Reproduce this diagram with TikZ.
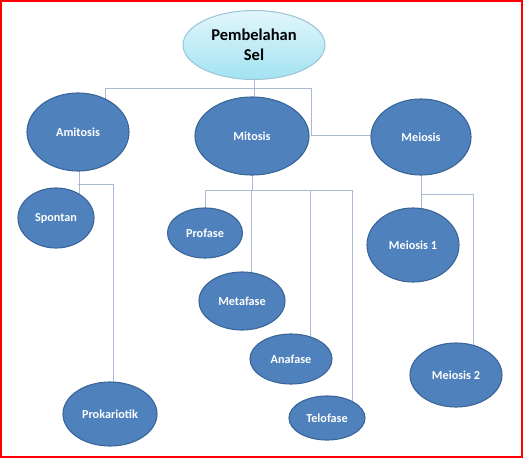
\documentclass[tikz,border=0pt]{standalone}
\usepackage{fontspec}
\setmainfont{Carlito}
\usetikzlibrary{shapes.geometric,backgrounds}
\definecolor{nodeblue}{HTML}{4F81BD}
\definecolor{nodeedge}{HTML}{3A6598}
\definecolor{linkc}{HTML}{A9B9D3}
\definecolor{toptop}{HTML}{E2F6FB}
\definecolor{topbot}{HTML}{A2E2F2}
\definecolor{topedge}{HTML}{9CC4D6}
\begin{document}
\begin{tikzpicture}[x=1pt,y=-1pt,
  bubble/.style={ellipse,inner sep=0pt,fill=nodeblue,draw=nodeedge,line width=1.1pt,
    text=white,font=\fontsize{12.2}{14}\selectfont\bfseries},
  rootbubble/.style={ellipse,inner sep=0pt,top color=toptop,bottom color=topbot,draw=topedge,
    line width=1pt,text=black,align=center,font=\fontsize{16.5}{20}\selectfont\bfseries},
  link/.style={draw=linkc,line width=0.9pt}]
\useasboundingbox (0,0) rectangle (523,458);
\draw[red,line width=1.6pt] (0.8,0.8) rectangle (522.2,457.2);

\node[rootbubble,minimum width=142pt,minimum height=69pt] (ps) at (254,45) {Pembelahan\\Sel};
\node[bubble,minimum width=102pt,minimum height=78pt] (ami) at (78,132) {Amitosis};
\node[bubble,minimum width=114pt,minimum height=78pt] (mit) at (252,136) {Mitosis};
\node[bubble,minimum width=100pt,minimum height=76pt] (mei) at (421,137) {Meiosis};
\node[bubble,minimum width=76pt,minimum height=60pt] (spo) at (56,218) {Spontan};
\node[bubble,minimum width=94pt,minimum height=64pt] (pro) at (110,414) {Prokariotik};
\node[bubble,minimum width=75pt,minimum height=50pt] (prf) at (205,233) {Profase};
\node[bubble,minimum width=86pt,minimum height=58pt] (met) at (242,301) {Metafase};
\node[bubble,minimum width=82pt,minimum height=50pt] (ana) at (291,359) {Anafase};
\node[bubble,minimum width=76pt,minimum height=44pt] (tel) at (327,418) {Telofase};
\node[bubble,minimum width=92pt,minimum height=74pt] (me1) at (413,245) {Meiosis 1};
\node[bubble,minimum width=92pt,minimum height=64pt] (me2) at (456,375) {Meiosis 2};

\coordinate (busTL) at (105,88);
\coordinate (busTR) at (311,88);
\coordinate (busAL) at (79,184);
\coordinate (busAR) at (113,184);
\coordinate (busML) at (205,190);
\coordinate (busMM) at (251,190);
\coordinate (busMA) at (310,190);
\coordinate (busMR) at (352,190);
\coordinate (busEL) at (421,194);
\coordinate (busER) at (473,194);

\begin{scope}[on background layer]
  % root
  \draw[link] (ps.south) -- (ps.south |- mit.center);
  \draw[link] (busTL) -- (busTR);
  \draw[link] (busTL) -- (busTL |- ami.center);
  \draw[link] (busTR) -- (busTR |- 0,135) -- (mei.center |- 0,135);
  % amitosis
  \draw[link] (ami.center |- busAL) -- (busAR);
  \draw[link] (busAL |- ami.center) -- (busAL |- spo.center);
  \draw[link] (busAR) -- (busAR |- pro.center);
  % mitosis
  \draw[link] (mit.center) -- (mit.center |- busML);
  \draw[link] (busML) -- (busMR);
  \draw[link] (busML) -- (busML |- prf.center);
  \draw[link] (busMM) -- (busMM |- met.center);
  \draw[link] (busMA) -- (busMA |- ana.center);
  \draw[link] (busMR) -- (busMR |- tel.center);
  % meiosis
  \draw[link] (mei.center) -- (busEL) -- (busER);
  \draw[link] (busEL) -- (busEL |- me1.center);
  \draw[link] (busER) -- (busER |- me2.center);
\end{scope}
\end{tikzpicture}
\end{document}
